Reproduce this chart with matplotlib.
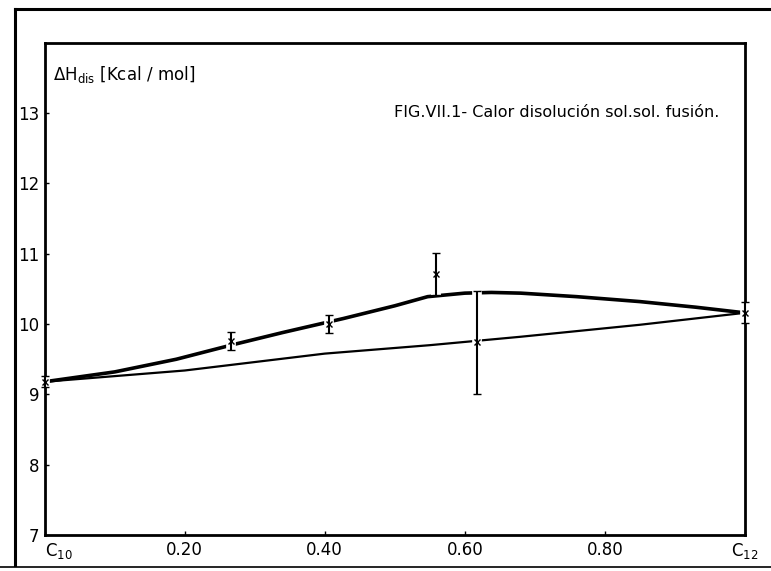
import matplotlib
matplotlib.use('Agg')

from matplotlib import pyplot as plt
from matplotlib.lines import Line2D
import numpy as np

# measured points with error bars
x_pts = [0.0, 0.266, 0.406, 0.559, 0.618, 1.0]
y_pts = [9.18, 9.76, 10.0, 10.71, 9.74, 10.16]
y_err = [0.08, 0.13, 0.13, 0.30, 0.73, 0.15]

# upper (thick) curve
x_up = [0.0, 0.10, 0.188, 0.266, 0.34, 0.427, 0.50, 0.547, 0.60, 0.638, 0.68, 0.76, 0.85, 0.93, 1.0]
y_up = [9.18, 9.32, 9.50, 9.70, 9.88, 10.08, 10.26, 10.39, 10.44, 10.45, 10.44, 10.39, 10.32, 10.24, 10.16]

# lower (thin) straight-ish line
x_lo = [0.0, 0.2, 0.4, 0.55, 0.68, 0.85, 1.0]
y_lo = [9.18, 9.34, 9.58, 9.70, 9.82, 9.99, 10.16]

x_ticks = [0.0, 0.2, 0.4, 0.6, 0.8, 1.0]
x_labels = ["C$_{10}$", "0.20", "0.40", "0.60", "0.80", "C$_{12}$"]
y_ticks = [7, 8, 9, 10, 11, 12, 13]


def main():
    fig = plt.figure(figsize=(7.71, 5.71), dpi=100)
    ax = fig.add_axes([0.058, 0.063, 0.908, 0.862])

    ax.plot(x_up, y_up, 'k-', lw=2.6)
    ax.plot(x_lo, y_lo, 'k-', lw=1.6)

    # white band under each bar -> gaps in curves and frame like the drawing
    ax.errorbar(x_pts, y_pts, yerr=y_err, fmt='none', ecolor='white',
                elinewidth=7, capsize=0, zorder=2.8, clip_on=False)
    ax.errorbar(x_pts, y_pts, yerr=y_err, fmt='x', color='k', ms=4, mew=1,
                ecolor='k', elinewidth=1.5, capsize=3, capthick=1.5, zorder=3,
                clip_on=False)

    ax.set_xlim(0, 1.0)
    ax.set_ylim(7, 14)
    ax.set_xticks(x_ticks)
    ax.set_xticklabels(x_labels, fontsize=12)
    ax.set_yticks(y_ticks)
    ax.set_yticklabels([str(v) for v in y_ticks], fontsize=12)
    ax.tick_params(direction='in', length=3, width=1, pad=4)
    ax.get_xticklabels()[0].set_horizontalalignment('left')
    for s in ax.spines.values():
        s.set_linewidth(2)

    ax.text(0.012, 0.935, r"$\Delta$H$_{\mathrm{dis}}$ [Kcal / mol]", transform=ax.transAxes,
            fontsize=12, va='center', ha='left')
    ax.text(0.963, 0.858, "FIG.VII.1- Calor disolución sol.sol. fusión.", transform=ax.transAxes,
            fontsize=11.5, va='center', ha='right')

    # outer frame of the page (left, top, bottom)
    fig.add_artist(Line2D([0.019, 0.019], [0.01, 0.984], transform=fig.transFigure, color='k', lw=2.2))
    fig.add_artist(Line2D([0.019, 1.0], [0.984, 0.984], transform=fig.transFigure, color='k', lw=2.2))
    fig.add_artist(Line2D([0.0, 1.0], [0.007, 0.007], transform=fig.transFigure, color='k', lw=1.2))

    plt.savefig("out.png", dpi=100)
    plt.close()


if __name__ == "__main__":
    main()
